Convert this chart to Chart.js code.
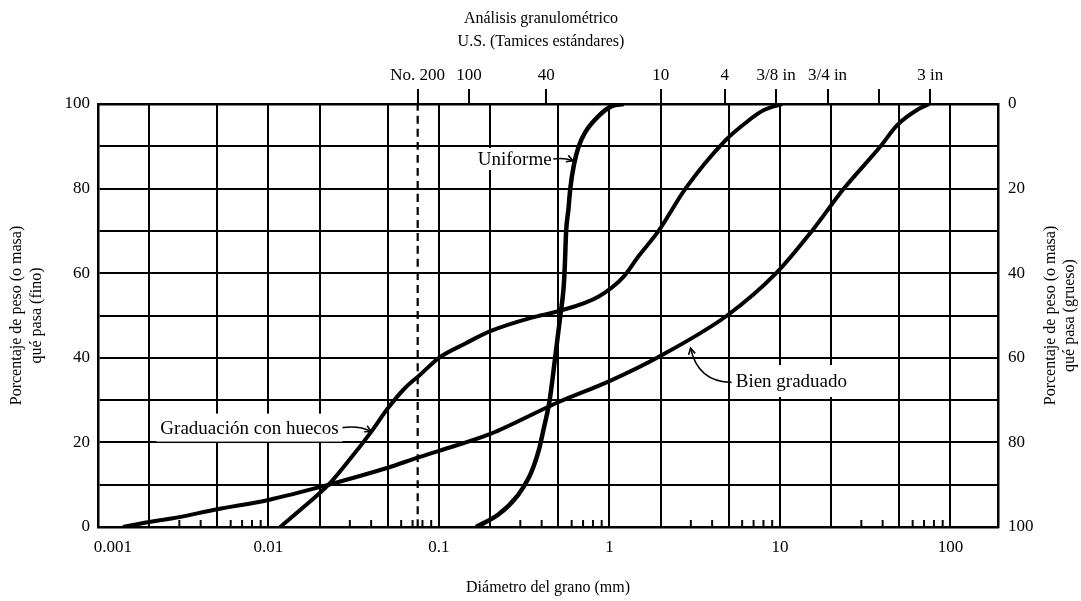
<!DOCTYPE html>
<html>
<head>
<meta charset="utf-8">
<title>Análisis granulométrico</title>
<script src="https://cdn.jsdelivr.net/npm/chart.js@4.4.0/dist/chart.umd.min.js"></script>
<style>
  html, body { margin: 0; padding: 0; background: #fff; }
  #wrap { width: 1081px; height: 601px; position: relative; }
</style>
</head>
<body>
<div id="wrap"><canvas id="grainChart"></canvas></div>
<script>
// grain diameter (mm) / percent passing
const wellSize = [0.0014, 0.002, 0.0027, 0.005, 0.01, 0.0225, 0.05, 0.075, 0.1, 0.2, 0.5, 1, 2, 4.9, 9.5, 15.4, 23.7, 38.9, 48.7, 65, 75];
const wellPass = [0, 1.2, 2, 4.2, 6.4, 10, 14, 16.4, 18, 22, 29.5, 34.5, 40.5, 50, 60, 70, 80, 90, 95, 98.8, 100];

const gapSize = [0.0117, 0.0164, 0.0225, 0.03, 0.04, 0.05, 0.063, 0.0775, 0.1, 0.143, 0.2, 0.35, 0.5, 0.865, 1.2, 1.48, 1.94, 2.79, 4.68, 6.27, 8, 10.3];
const gapPass = [0, 5, 10, 16, 22.5, 28, 32.8, 36, 40, 43.4, 46.3, 49.5, 51, 54.5, 59, 64, 70, 80, 91, 95.5, 98.5, 100];

const uniSize = [0.165, 0.224, 0.29, 0.335, 0.36, 0.384, 0.41, 0.445, 0.48, 0.515, 0.538, 0.546, 0.557, 0.574, 0.589, 0.617, 0.66, 0.72, 0.865, 1.03, 1.21];
const uniPass = [0, 3, 7.5, 11.5, 14.5, 18, 23, 29.8, 40, 50, 56.5, 61, 70, 75, 80, 85.4, 90, 93.3, 97.2, 99.5, 100];

// U.S. standard sieves (opening in mm) for the top axis
const sieveSize = [0.075, 0.15, 0.425, 2.0, 4.75, 9.5, 19, 38.1, 76.2];
const sieveLabels = ['No. 200', '100', '40', '10', '4', '3/8 in', '3/4 in', '', '3 in'];

const gridSize = [0.001, 0.002, 0.005, 0.01, 0.02, 0.05, 0.1, 0.2, 0.5, 1, 2, 5, 10, 20, 50, 100];
const sizeLabels = [0.001, 0.01, 0.1, 1, 10, 100];
const minorSize = [0.003, 0.004, 0.006, 0.007, 0.008, 0.009,
                   0.03, 0.04, 0.06, 0.07, 0.08, 0.09,
                   0.3, 0.4, 0.6, 0.7, 0.8, 0.9,
                   3, 4, 6, 7, 8, 9,
                   30, 40, 60, 70, 80, 90];
const no200 = 0.075;

const SERIF = '"Liberation Serif", "Times New Roman", serif';

function toPoints(xs, ys) {
    return xs.map((x, i) => ({ x: x, y: ys[i] }))
}

// labels with arrows, anchored in data units
const notes = [
    { text: 'Uniforme', x: 0.458, y: 87, align: 'right', boxH: 22,
      from: [0.468, 87], ctrl: [0.54, 87.4], to: [0.61, 86.6] },
    { text: 'Graduación con huecos', x: 0.0258, y: 23.5, align: 'right', boxH: 28,
      from: [0.0272, 23.5], ctrl: [0.034, 24], to: [0.040, 22.6] },
    { text: 'Bien graduado', x: 5.5, y: 34.5, align: 'left', boxH: 32,
      from: [5.2, 34.2], ctrl: [3.3, 34.3], to: [2.99, 42.3] }
];

const decorPlugin = {
    id: 'decor',
    afterDatasetsDraw(chart) {
        const ctx = chart.ctx;
        const xs = chart.scales.x;
        const ys = chart.scales.y;
        const area = chart.chartArea;

        // small inner ticks along the bottom
        ctx.save();
        ctx.strokeStyle = '#000';
        ctx.lineWidth = 2;
        minorSize.forEach(v => {
            const px = xs.getPixelForValue(v);
            ctx.beginPath();
            ctx.moveTo(px, area.bottom);
            ctx.lineTo(px, area.bottom - 7);
            ctx.stroke();
        });

        ctx.font = '19px ' + SERIF;
        ctx.textBaseline = 'middle';
        notes.forEach(n => {
            const px = xs.getPixelForValue(n.x);
            const py = ys.getPixelForValue(n.y);
            const w = ctx.measureText(n.text).width;
            const left = n.align === 'right' ? px - w : px;
            ctx.fillStyle = '#fff';
            ctx.fillRect(left - 4, py - n.boxH / 2, w + 8, n.boxH);
            ctx.fillStyle = '#000';
            ctx.textAlign = 'left';
            ctx.fillText(n.text, left, py + 1);

            const x0 = xs.getPixelForValue(n.from[0]), y0 = ys.getPixelForValue(n.from[1]);
            const cx = xs.getPixelForValue(n.ctrl[0]), cy = ys.getPixelForValue(n.ctrl[1]);
            const x1 = xs.getPixelForValue(n.to[0]), y1 = ys.getPixelForValue(n.to[1]);
            ctx.lineWidth = 1.6;
            ctx.beginPath();
            ctx.moveTo(x0, y0);
            ctx.quadraticCurveTo(cx, cy, x1, y1);
            ctx.stroke();
            const ang = Math.atan2(y1 - cy, x1 - cx);
            ctx.beginPath();
            ctx.moveTo(x1 - 7 * Math.cos(ang - 0.5), y1 - 7 * Math.sin(ang - 0.5));
            ctx.lineTo(x1, y1);
            ctx.lineTo(x1 - 7 * Math.cos(ang + 0.5), y1 - 7 * Math.sin(ang + 0.5));
            ctx.stroke();
        });
        ctx.restore();
    },
    afterDraw(chart) {
        const ctx = chart.ctx;
        const area = chart.chartArea;
        ctx.save();
        ctx.fillStyle = '#000';
        ctx.font = '16px ' + SERIF;
        ctx.textAlign = 'center';
        ctx.textBaseline = 'middle';
        // top title
        ctx.fillText('Análisis granulométrico', 541, 19);
        ctx.fillText('U.S. (Tamices estándares)', 541, 42);
        // right axis title, reading bottom to top
        ctx.translate(1051, (area.top + area.bottom) / 2);
        ctx.rotate(-Math.PI / 2);
        ctx.fillText('Porcentaje de peso (o masa)', 0, 0);
        ctx.fillText('qué pasa (grueso)', 0, 19);
        ctx.restore();
    }
};

const ctx = document.getElementById('grainChart').getContext('2d');
const chart = new Chart(ctx, {
    type: 'line',
    data: {
        datasets: [
            { label: 'No. 200', data: [{ x: no200, y: 0 }, { x: no200, y: 100 }],
              borderDash: [8, 5], borderWidth: 2.2 },
            { label: 'Bien graduado', data: toPoints(wellSize, wellPass), borderWidth: 4 },
            { label: 'Graduación con huecos', data: toPoints(gapSize, gapPass), borderWidth: 4 },
            { label: 'Uniforme', data: toPoints(uniSize, uniPass), borderWidth: 4.5 }
        ]
    },
    options: {
        responsive: true,
        maintainAspectRatio: false,
        animation: false,
        events: [],
        layout: { padding: 0 },
        elements: {
            point: { radius: 0 },
            line: { borderColor: '#000', fill: false, cubicInterpolationMode: 'monotone' }
        },
        plugins: { legend: { display: false }, tooltip: { enabled: false }, title: { display: false } },
        scales: {
            x: {
                type: 'logarithmic',
                position: 'bottom',
                min: 0.001,
                max: 190,
                afterBuildTicks: axis => { axis.ticks = gridSize.map(v => ({ value: v })) },
                afterFit: axis => { axis.height = 74 },
                grid: { color: '#000', lineWidth: 2, drawTicks: false },
                border: { color: '#000', width: 2.5 },
                ticks: {
                    autoSkip: false, maxRotation: 0, padding: 10, color: '#000',
                    font: { family: SERIF, size: 17 },
                    // the first label sits a bit right of the border in the original
                    callback: v => sizeLabels.includes(v) ? (v === 0.001 ? '       0.001' : String(v)) : ''
                },
                title: {
                    display: true, text: 'Diámetro del grano (mm)', color: '#000',
                    font: { family: SERIF, size: 16, lineHeight: 1.25 }, padding: { top: 0, bottom: 3 }
                }
            },
            x2: {
                type: 'logarithmic',
                position: 'top',
                min: 0.001,
                max: 190,
                afterBuildTicks: axis => { axis.ticks = sieveSize.map(v => ({ value: v })) },
                afterFit: axis => { axis.height = 104 },
                grid: { drawOnChartArea: false, drawTicks: true, tickLength: 15, color: '#000', lineWidth: 2 },
                border: { color: '#000', width: 2.5 },
                ticks: {
                    autoSkip: false, maxRotation: 0, padding: 3, color: '#000',
                    font: { family: SERIF, size: 17 },
                    callback: (v, i) => sieveLabels[i]
                }
            },
            y: {
                type: 'linear',
                position: 'left',
                min: 0,
                max: 100,
                afterFit: axis => { axis.width = 98 },
                grid: { color: '#000', lineWidth: 2, drawTicks: false },
                border: { color: '#000', width: 2.5 },
                ticks: {
                    stepSize: 10, padding: 8, color: '#000',
                    font: { family: SERIF, size: 17 },
                    callback: v => v % 20 === 0 ? v : ''
                },
                title: {
                    display: true, text: ['Porcentaje de peso (o masa)', 'qué pasa (fino)'], color: '#000',
                    font: { family: SERIF, size: 16, lineHeight: 1.25 }, padding: { top: 7, bottom: 0 }
                }
            },
            y2: {
                type: 'linear',
                position: 'right',
                reverse: true,
                min: 0,
                max: 100,
                afterFit: axis => { axis.width = 83 },
                grid: { display: false, drawTicks: false },
                border: { color: '#000', width: 2.5 },
                ticks: {
                    stepSize: 20, padding: 10, color: '#000',
                    font: { family: SERIF, size: 17 }
                }
            }
        }
    },
    plugins: [decorPlugin]
});
</script>
</body>
</html>
